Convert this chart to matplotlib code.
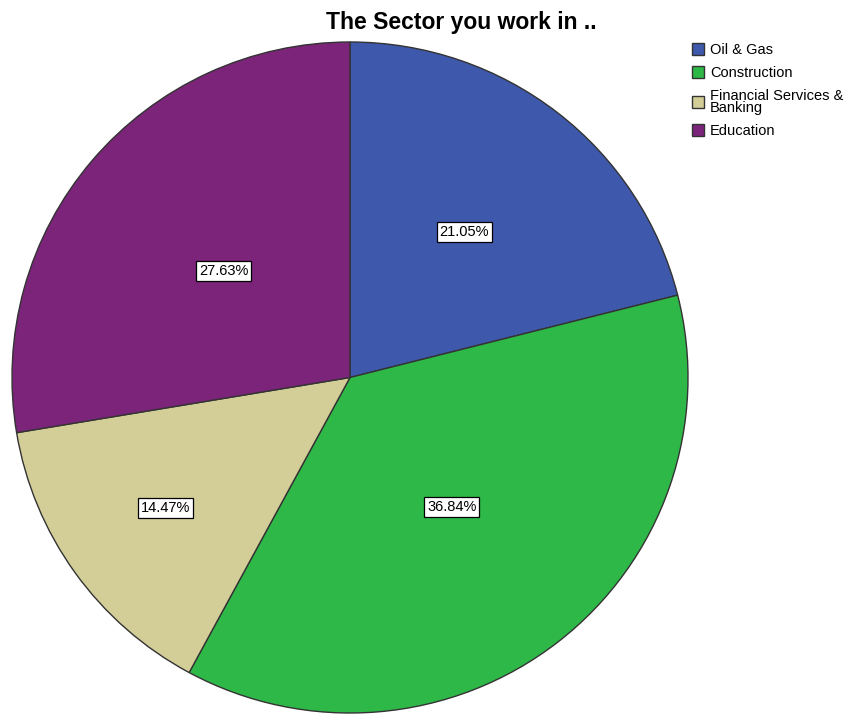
import numpy as np
import matplotlib.pyplot as plt

# sector counts (n = 76)
sectors = ["Oil & Gas", "Construction", "Financial Services &\nBanking", "Education"]
counts = [16, 28, 11, 21]
colors = ["#3E58AC", "#2EB848", "#D3CE97", "#7B2479"]
label_dist = [0.55, 0.49, 0.67, 0.49]

plt.rcParams['font.family'] = ['Liberation Sans', 'DejaVu Sans']

fig = plt.figure(figsize=(8.59, 7.16), dpi=100)
ax = fig.add_axes([12 / 859, 3 / 716, 676 / 859, 671 / 716])

wedges, texts, autotexts = ax.pie(
    counts, colors=colors, startangle=90, counterclock=False,
    autopct="%.2f%%", pctdistance=0.5, radius=1,
    wedgeprops=dict(edgecolor="#333333", linewidth=1),
    textprops=dict(fontsize=10.5),
)

for w, t, d in zip(wedges, autotexts, label_dist):
    ang = np.deg2rad((w.theta1 + w.theta2) / 2)
    t.set_position((d * np.cos(ang), d * np.sin(ang)))
    t.set_bbox(dict(facecolor="white", edgecolor="black", pad=2, linewidth=0.9))

ax.set_xlim(-1, 1)
ax.set_ylim(-1, 1)
ax.set_aspect("auto")
ax.axis("off")

fig.text(461 / 859, 1 - 22 / 716, "The Sector you work in ..", ha="center", va="center",
         fontsize=16.5, fontweight="bold")

fig.legend(wedges, sectors, loc="upper left", bbox_to_anchor=(692 / 859, 1 - 43 / 716),
           frameon=False, fontsize=10.5, handlelength=0.8, handleheight=0.9,
           handletextpad=0.45, labelspacing=0.6, borderpad=0, borderaxespad=0)
for t in fig.legends[0].get_texts():
    t.set_linespacing(0.85)

fig.savefig("out.png", dpi=100)
